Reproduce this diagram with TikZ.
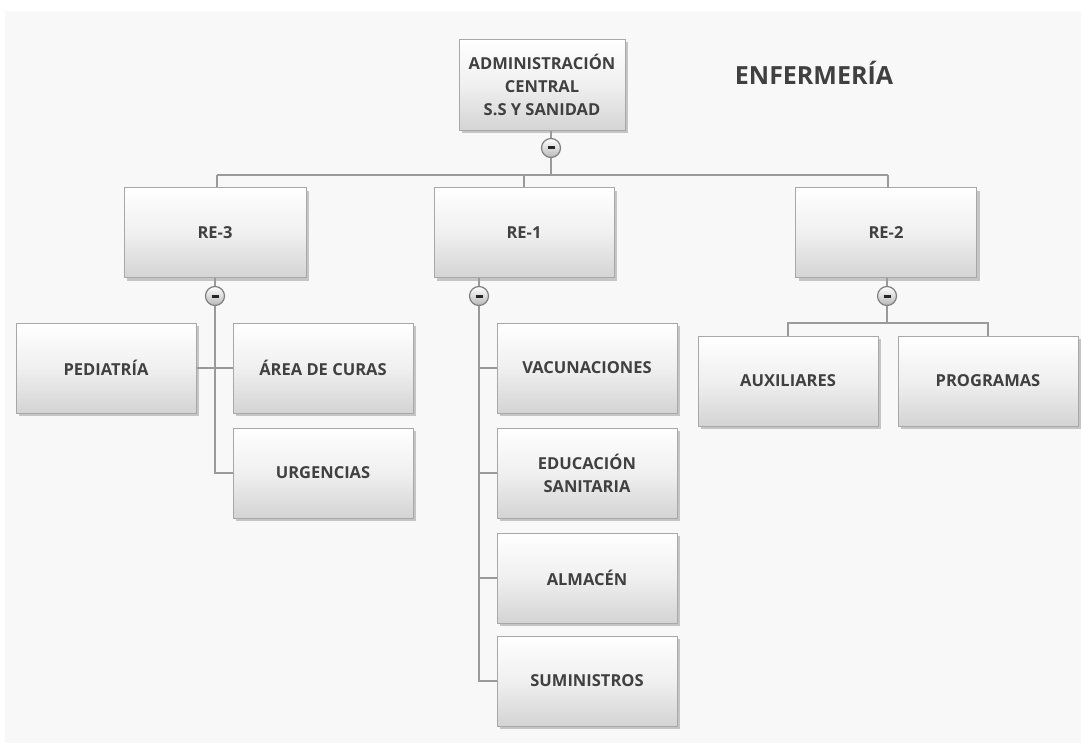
\documentclass[tikz,border=0pt]{standalone}
\usepackage{fontspec}
\setmainfont{Open Sans}
\usetikzlibrary{shadows}
\definecolor{txt}{HTML}{404040}
\definecolor{edge}{HTML}{A8A8A8}
\definecolor{bgc}{HTML}{F8F8F8}
\definecolor{lnc}{HTML}{9A9A9A}
\tikzset{
  box/.style={draw=edge, line width=1pt, top color=white, bottom color=black!17,
    middle color=black!6, minimum width=180pt, minimum height=90pt, align=center,
    font=\bfseries\fontsize{16.5}{23}\selectfont, text=txt,
    drop shadow={shadow xshift=3pt, shadow yshift=-3pt, opacity=0.35, fill=black!60}},
  conn/.style={draw=lnc, line width=1.2pt},
  tog/.style={circle, draw=black!50, line width=1.2pt, inner sep=0pt, minimum size=19pt,
    top color=white, bottom color=black!28},
}
\newcommand{\minus}[1]{\draw[black!85, line width=3pt] ([xshift=-3.5pt]#1.center) -- ([xshift=3.5pt]#1.center);}
\begin{document}
\begin{tikzpicture}[x=1pt,y=-1pt]
\useasboundingbox (0,0) rectangle (1081,743);
\fill[bgc] (5,11) rectangle (1081,743);
% nodes
\node[box, minimum width=166pt, minimum height=91pt] (adm) at (542,85) {ADMINISTRACIÓN\\CENTRAL\\S.S Y SANIDAD};
\node[font=\bfseries\fontsize{25}{28}\selectfont, text=txt] (title) at (814,73) {ENFERMERÍA};
\node[box, minimum width=182pt] (re3) at (215,233) {RE-3};
\node[box] (re1) at (524,233) {RE-1};
\node[box, minimum width=181pt] (re2) at (886,233) {RE-2};
\node[box] (ped) at (106,368) {PEDIATRÍA};
\node[box] (area) at (323,368) {ÁREA DE CURAS};
\node[box] (urg) at (323,473) {URGENCIAS};
\node[box] (vac) at (587,368) {VACUNACIONES};
\node[box] (edu) at (587,473) {EDUCACIÓN\\SANITARIA};
\node[box] (alm) at (587,578) {ALMACÉN};
\node[box] (sum) at (587,681) {SUMINISTROS};
\node[box] (aux) at (788,381) {AUXILIARES};
\node[box] (prog) at (988,381) {PROGRAMAS};
% toggles
\node[tog] (t0) at (551,148) {};
\node[tog] (t3) at (215,296) {};
\node[tog] (t1) at (479,296) {};
\node[tog] (t2) at (887,296) {};
\coordinate (h0) at (551,175);
\coordinate (hl) at (217,175);
\coordinate (hr) at (888,175);
\coordinate (b3) at (215,473);
\coordinate (b1) at (479,681);
\coordinate (h2) at (887,323);
% connectors
\draw[conn] (adm.south -| t0) -- (t0.north);
\draw[conn] (t0.south) -- (h0);
\draw[conn] (hl) -- (hr);
\draw[conn] (hl) -- (re3.north -| hl);
\draw[conn] (h0 -| re1) -- (re1.north);
\draw[conn] (hr) -- (re2.north -| hr);
\draw[conn] (re3.south) -- (t3.north);
\draw[conn] (t3.south) -- (b3) -- (urg.west);
\draw[conn] (ped.east) -- (area.west);
\draw[conn] (re1.south -| t1) -- (t1.north);
\draw[conn] (t1.south) -- (b1) -- (sum.west);
\draw[conn] (vac.west -| t1) -- (vac.west);
\draw[conn] (edu.west -| t1) -- (edu.west);
\draw[conn] (alm.west -| t1) -- (alm.west);
\draw[conn] (re2.south -| t2) -- (t2.north);
\draw[conn] (t2.south) -- (h2);
\draw[conn] (aux.north) -- (aux.north |- h2) -- (prog.north |- h2) -- (prog.north);
\minus{t0}\minus{t1}\minus{t2}\minus{t3}
\end{tikzpicture}
\end{document}
